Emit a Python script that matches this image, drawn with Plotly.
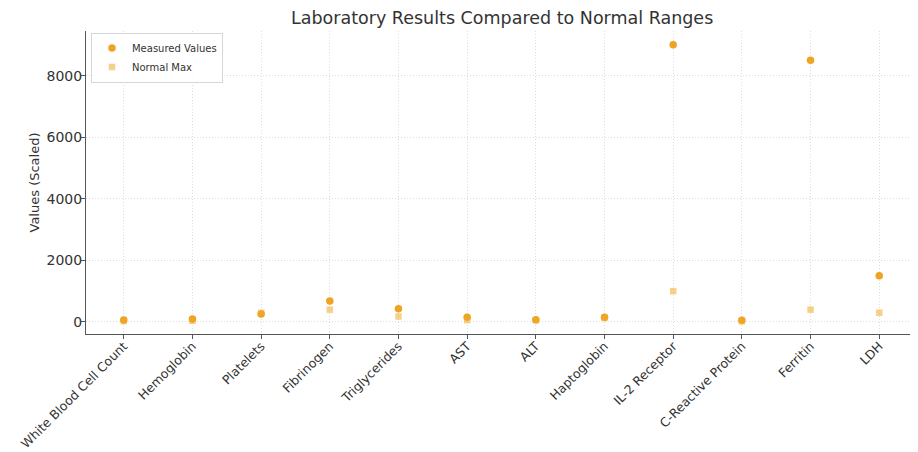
import plotly.graph_objects as go

categories = ["White Blood Cell Count", "Hemoglobin", "Platelets", "Fibrinogen",
              "Triglycerides", "AST", "ALT", "Haptoglobin", "IL-2 Receptor",
              "C-Reactive Protein", "Ferritin", "LDH"]
measured_values = [65, 100, 260, 680, 430, 150, 70, 150, 9000, 55, 8500, 1500]
normal_max = [30, 40, 300, 400, 180, 60, 56, 130, 1000, 20, 400, 300]
y_ticks = [0, 2000, 4000, 6000, 8000]

FONT = "DejaVu Sans"

fig = go.Figure()
fig.add_trace(go.Scatter(
    x=categories, y=measured_values, mode="markers", name="Measured Values",
    marker=dict(symbol="circle", size=7.5, color="#EEA322", line=dict(width=0)),
))
fig.add_trace(go.Scatter(
    x=categories, y=normal_max, mode="markers", name="Normal Max",
    marker=dict(symbol="square", size=6.5, color="rgba(240,170,40,0.55)", line=dict(width=0)),
))

# page body has an 8px default margin, so the figure is sized to fit the window
fig.update_layout(
    width=910, height=444,
    paper_bgcolor="white", plot_bgcolor="white",
    margin=dict(l=78, r=1, t=23, b=118, autoexpand=False),
    font=dict(family=FONT, color="#333333"),
    title=dict(text="Laboratory Results Compared to Normal Ranges",
               x=0.543, xanchor="center", y=0.977, yanchor="middle",
               yref="container", font=dict(size=17.5, color="#333333", family=FONT)),
    showlegend=True,
    legend=dict(x=0.006, y=0.995, xanchor="left", yanchor="top",
                bgcolor="rgba(255,255,255,0.85)", bordercolor="#d6d6d6", borderwidth=1,
                font=dict(size=10, color="#333333", family=FONT),
                itemsizing="trace", tracegroupgap=0, itemwidth=30),
)

fig.update_xaxes(
    type="category", range=[-0.55, 11.55], automargin=False,
    tickangle=-45, tickfont=dict(size=12.5, color="#333333", family=FONT),
    ticklabelstandoff=-5,
    showgrid=True, gridcolor="#dddddd", griddash="1px,2px", gridwidth=1,
    showline=True, linecolor="#555555", linewidth=1,
    ticks="outside", ticklen=4, tickcolor="#555555",
    zeroline=False,
)
fig.update_yaxes(
    range=[-390, 9450], tickvals=y_ticks, automargin=False,
    tickfont=dict(size=14, color="#333333", family=FONT),
    ticklabelstandoff=-4,
    title=dict(text="Values (Scaled)", font=dict(size=13, color="#333333", family=FONT), standoff=4),
    showgrid=True, gridcolor="#dddddd", griddash="1px,2px", gridwidth=1,
    showline=True, linecolor="#555555", linewidth=1,
    ticks="outside", ticklen=4, tickcolor="#555555",
    zeroline=False,
)

fig.write_html("out.html")
